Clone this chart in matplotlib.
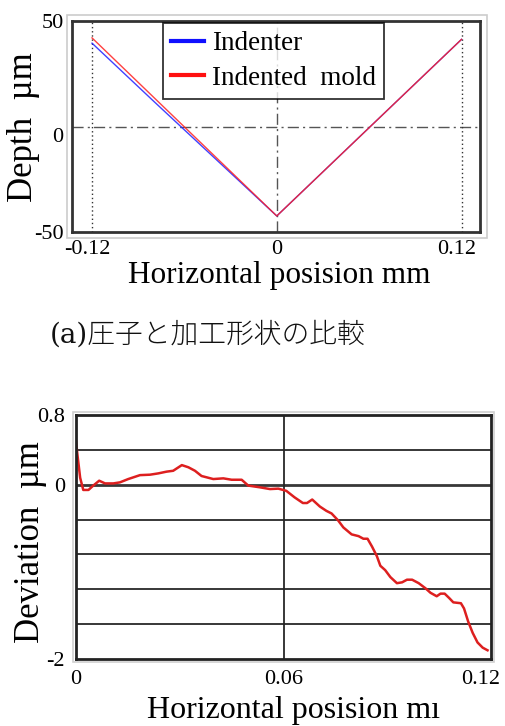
import matplotlib
matplotlib.use("Agg")
import matplotlib.pyplot as plt
from matplotlib.patches import Rectangle
from matplotlib.transforms import ScaledTranslation

# ---------------- data ----------------
# (a) depth profile
indenter_x = [-0.12, -0.08, 0.0, 0.12]
indenter_y = [39.5, 12.0, -42.4, 41.3]
mold_x = [-0.12, 0.0, 0.12]
mold_y = [42.0, -42.4, 41.3]
top_xticks = [-0.12, 0, 0.12]
top_xticklabels = ["-0.12", "0", "0.12"]
top_yticks = [50, 0, -50]
top_yticklabels = ["50", "0", "-50"]

# (b) deviation profile
dev_x = [0.0, 0.0004, 0.0012, 0.0021, 0.0036, 0.005, 0.0067, 0.0084, 0.0108,
         0.0127, 0.0151, 0.0185, 0.0214, 0.0238, 0.0262, 0.0281, 0.0306,
         0.0325, 0.0344, 0.0363, 0.0397, 0.0426, 0.045, 0.0479, 0.0498,
         0.0532, 0.0561, 0.0585, 0.0608, 0.0632, 0.0656, 0.0668, 0.0683,
         0.0705, 0.0724, 0.0739, 0.0758, 0.0773, 0.0797, 0.0817, 0.0831,
         0.0843, 0.0856, 0.087, 0.088, 0.0894, 0.0909, 0.0928, 0.0943,
         0.0957, 0.0972, 0.0991, 0.1011, 0.1025, 0.1043, 0.1054, 0.1066,
         0.1079, 0.1091, 0.1113, 0.1122, 0.1134, 0.1147, 0.1161, 0.1176,
         0.119]
dev_y = [0.50, 0.35, 0.08, -0.06, -0.06, -0.01, 0.046, 0.015, 0.015,
         0.027, 0.065, 0.11, 0.115, 0.13, 0.15, 0.16, 0.225,
         0.20, 0.16, 0.10, 0.065, 0.073, 0.057, 0.057, -0.01,
         -0.03, -0.05, -0.045, -0.07, -0.145, -0.21, -0.21, -0.17,
         -0.25, -0.30, -0.33, -0.41, -0.49, -0.57, -0.59, -0.62,
         -0.62, -0.71, -0.82, -0.93, -0.98, -1.06, -1.13, -1.12,
         -1.09, -1.09, -1.13, -1.19, -1.24, -1.28, -1.25, -1.25,
         -1.30, -1.35, -1.36, -1.42, -1.57, -1.70, -1.81, -1.87,
         -1.90]
bot_xticks = [0, 0.06, 0.12]
bot_xticklabels = ["0", "0.06", "0.12"]
bot_yticks = [0.8, 0, -2]
bot_yticklabels = ["0.8", "0", "-2"]
bot_ygrid = [0.4, 0.0, -0.4, -0.8, -1.2, -1.6]

SERIF = "Liberation Serif"
plt.rcParams["font.family"] = [SERIF, "DejaVu Sans"]

W, H = 505, 726
fig = plt.figure(figsize=(W / 100, H / 100), dpi=100)


def fx(px):
    return px / W


def fy(py):
    return 1 - py / H


def shift(label, dx_px, dy_px):
    label.set_transform(label.get_transform() +
                        ScaledTranslation(dx_px / 100, dy_px / 100,
                                          fig.dpi_scale_trans))


# ---------------- top axes ----------------
ax1 = fig.add_axes([fx(72), fy(232), fx(480) - fx(72), fy(21) - fy(232)])
ax1.set_xlim(-0.133, 0.132)
ax1.set_ylim(-50, 50)
ax1.axhline(0, color="#555555", lw=1.0, ls=(0, (8, 3, 1.5, 3)))
ax1.axvline(0, color="#555555", lw=1.0, ls=(0, (8, 3, 1.5, 3)))
for v in (-0.12, 0.12):
    ax1.axvline(v, color="#333333", lw=1.0, ls=(0, (1, 2)))
l1, = ax1.plot(indenter_x, indenter_y, color="#2020ff", lw=1.0, alpha=0.85)
l2, = ax1.plot(mold_x, mold_y, color="#ff2020", lw=1.0, alpha=0.85)
ax1.set_xticks(top_xticks)
ax1.set_xticklabels(top_xticklabels)
ax1.set_yticks(top_yticks)
ax1.set_yticklabels(top_yticklabels)
ax1.tick_params(length=0, labelsize=16, pad=6)
xl = ax1.get_xticklabels()
shift(xl[0], -5, 0)
shift(xl[2], -5, 0)
shift(ax1.get_yticklabels()[1], 0, -9)
for s in ax1.spines.values():
    s.set_linewidth(2.0)
    s.set_color("#333333")
h1, = ax1.plot([], [], color="#1010ff", lw=3)
h2, = ax1.plot([], [], color="#ff1010", lw=3)
leg = ax1.legend([h1, h2], ["Indenter", "Indented  mold"], loc="upper left",
                 bbox_to_anchor=(0.223, 0.99), borderaxespad=0,
                 fontsize=19.5, frameon=True, fancybox=False,
                 handlelength=1.2, handletextpad=0.3, labelspacing=0.35,
                 borderpad=0.3)
leg.get_frame().set_edgecolor("black")
leg.get_frame().set_linewidth(1.3)

fig.text(fx(24), fy(127), "Depth  µm", rotation=90, ha="center", va="center",
         fontsize=25)
fig.text(fx(279), fy(283), "Horizontal posision mm", ha="center",
         va="baseline", fontsize=22.5)
fig.patches.append(Rectangle((fx(67), fy(238)), fx(487) - fx(67),
                             fy(15) - fy(238), transform=fig.transFigure,
                             fill=False, edgecolor="#cccccc", lw=1.2))

# caption
fig.text(fx(50), fy(335), "(a)圧子と加工形状の比較", ha="left", va="center",
         fontsize=20, family=["DejaVu Serif", "Noto Sans CJK JP"],
         fontweight="light", color="#111111")

# ---------------- bottom axes ----------------
ax2 = fig.add_axes([fx(76), fy(659), fx(491) - fx(76), fy(415) - fy(659)])
ax2.set_xlim(0, 0.12)
ax2.set_ylim(-2, 0.8)
for g in bot_ygrid:
    ax2.axhline(g, color="#222222", lw=2.0 if g == 0 else 1.4, alpha=0.9)
ax2.axvline(0.06, color="#222222", lw=1.4, alpha=0.9)
ax2.plot(dev_x, dev_y, color="#dd1f1f", lw=1.8)
ax2.set_xticks(bot_xticks)
ax2.set_xticklabels(bot_xticklabels)
ax2.set_yticks(bot_yticks)
ax2.set_yticklabels(bot_yticklabels)
ax2.tick_params(length=0, labelsize=16, pad=8)
shift(ax2.get_xticklabels()[2], -10, 0)
for s in ax2.spines.values():
    s.set_linewidth(2.0)
    s.set_color("#222222")
fig.patches.append(Rectangle((fx(73), fy(662)), fx(494) - fx(73),
                             fy(412) - fy(662), transform=fig.transFigure,
                             fill=False, edgecolor="#d0d0d0", lw=1.2))

fig.text(fx(31), fy(542), "Deviation  µm", rotation=90, ha="center",
         va="center", fontsize=25)
fig.text(fx(147), fy(718), "Horizontal posision mı", ha="left",
         va="baseline", fontsize=23)

fig.savefig("out.png", dpi=100)
